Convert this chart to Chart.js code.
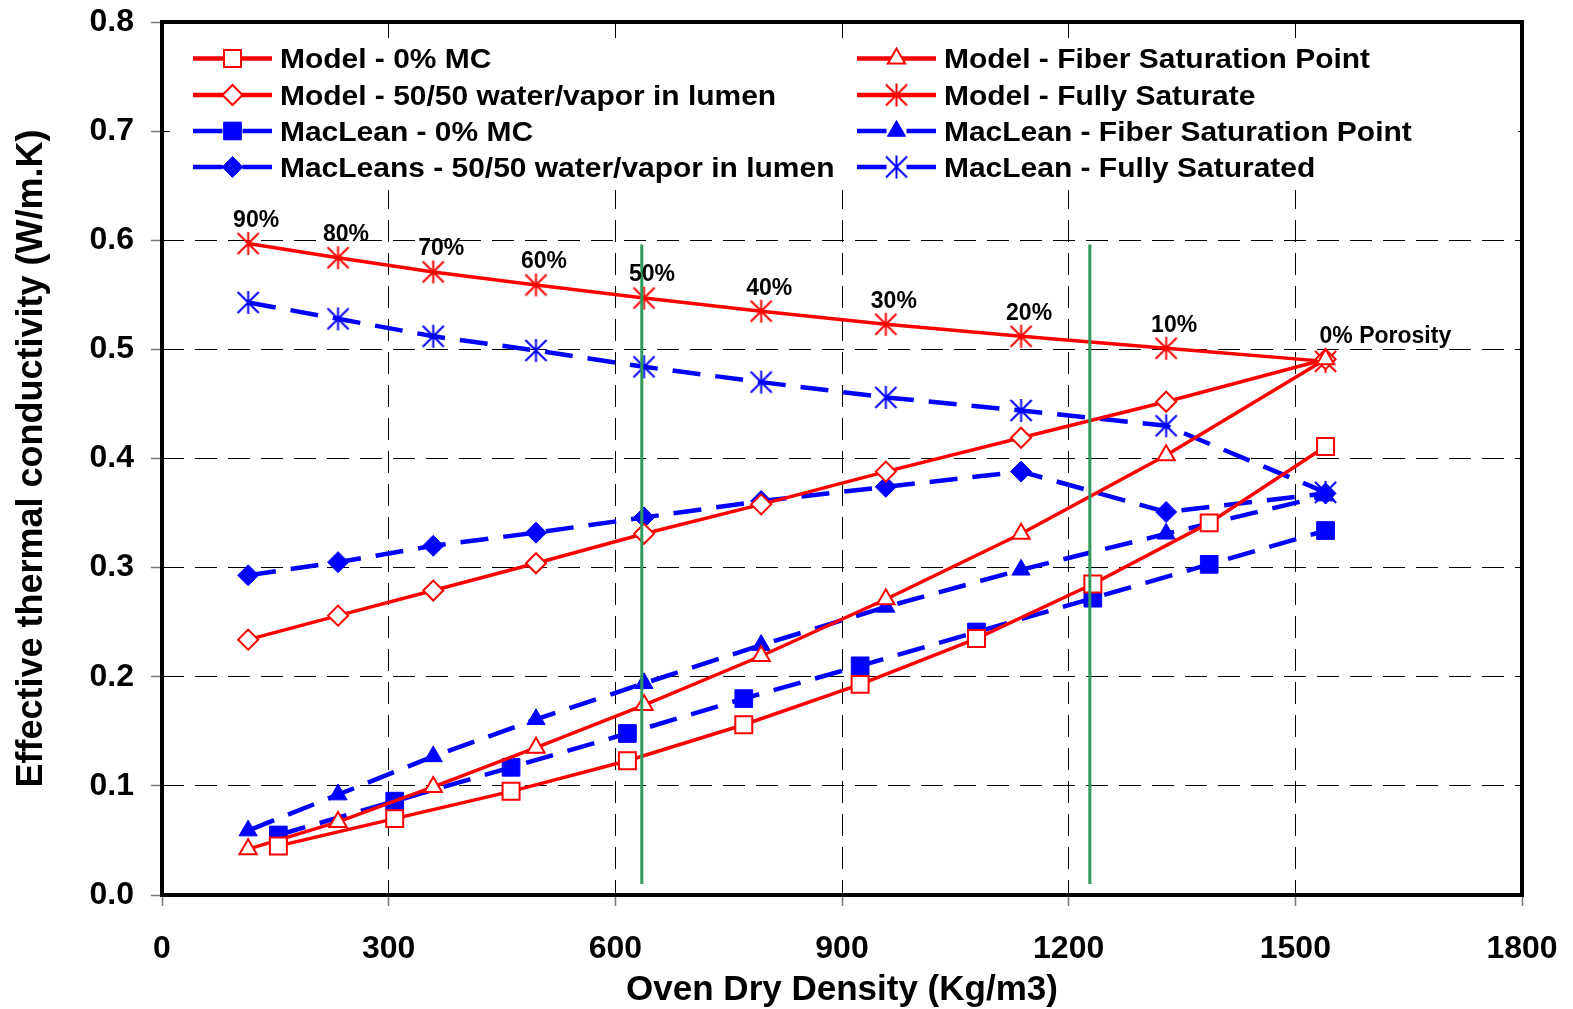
<!DOCTYPE html>
<html>
<head>
<meta charset="utf-8">
<script src="https://cdn.jsdelivr.net/npm/chart.js@4.4.1/dist/chart.umd.min.js"></script>
<style>
  html, body { margin: 0; padding: 0; background: #fff; }
  canvas { display: block; }
</style>
</head>
<body>
<canvas id="chart" width="1573" height="1009"></canvas>
<script>
// --- Data ---
// x positions shared by the FSP, 50/50 and fully saturated series (one per porosity step)
const densityPorosity = [114, 233, 359, 495, 638, 793, 958, 1137, 1329, 1540];
// x positions of the 0% MC series
const densityDry = [154, 308, 462, 616, 770, 924, 1078, 1232, 1386, 1540];

const modelDry       = [0.045, 0.070, 0.095, 0.123, 0.156, 0.193, 0.235, 0.285, 0.341, 0.411];
const modelFSP       = [0.042, 0.067, 0.099, 0.135, 0.174, 0.219, 0.271, 0.331, 0.403, 0.491];
const modelHalf      = [0.234, 0.256, 0.279, 0.304, 0.331, 0.358, 0.388, 0.419, 0.452, 0.491];
const modelSaturated = [0.597, 0.584, 0.571, 0.559, 0.547, 0.535, 0.523, 0.512, 0.501, 0.489];

const macleanDry       = [0.055, 0.086, 0.117, 0.148, 0.180, 0.210, 0.241, 0.272, 0.303, 0.334];
const macleanFSP       = [0.059, 0.092, 0.127, 0.161, 0.194, 0.229, 0.264, 0.298, 0.331, 0.366];
const macleanHalf      = [0.293, 0.305, 0.320, 0.332, 0.346, 0.361, 0.374, 0.388, 0.351, 0.368];
const macleanSaturated = [0.543, 0.528, 0.512, 0.499, 0.484, 0.470, 0.456, 0.444, 0.430, 0.369];

// porosity labels sit on the "Model - Fully Saturate" points
const porosityLabels = ['90%', '80%', '70%', '60%', '50%', '40%', '30%', '20%', '10%', '0% Porosity'];

// the two green vertical marker lines
const boundaryX = [635, 1228];
const boundaryY = [0.01, 0.596];

const xTicks = { min: 0, max: 1800, step: 300 };
const yTicks = { min: 0, max: 0.8, step: 0.1 };

// --- Styling ---
const RED = '#ff0000';
const BLUE = '#0000ff';
const GREEN = '#2e9a5c';
const FONT = '"Liberation Sans", Arial, sans-serif';

function makeAsterisk(color, size, width) {
    const c = document.createElement('canvas');
    c.width = c.height = size + 4;
    const g = c.getContext('2d');
    const m = c.width / 2, r = size / 2, d = r * 0.92;
    g.strokeStyle = color;
    g.lineWidth = width;
    g.beginPath();
    g.moveTo(m, m - r); g.lineTo(m, m + r);
    g.moveTo(m - d, m - d); g.lineTo(m + d, m + d);
    g.moveTo(m - d, m + d); g.lineTo(m + d, m - d);
    g.stroke();
    return c;
}

const redStar = makeAsterisk(RED, 23, 2);
const blueStar = makeAsterisk(BLUE, 23, 2);

function pairs(xs, ys) {
    return ys.map((y, i) => ({ x: xs[i], y: y }));
}

function modelSeries(label, xs, ys, style, radius) {
    return {
        label: label,
        data: pairs(xs, ys),
        showLine: true,
        borderColor: RED,
        borderWidth: 3.5,
        pointStyle: style,
        pointRadius: radius,
        pointBorderColor: RED,
        pointBackgroundColor: '#fff',
        pointBorderWidth: 2
    };
}

function macleanSeries(label, xs, ys, style, radius) {
    return {
        label: label,
        data: pairs(xs, ys),
        showLine: true,
        borderColor: BLUE,
        borderWidth: 4.5,
        borderDash: [28, 15],
        pointStyle: style,
        pointRadius: radius,
        pointBorderColor: BLUE,
        pointBackgroundColor: BLUE,
        pointBorderWidth: 1
    };
}

const datasets = [
    // green marker lines on top
    ...boundaryX.map(x => ({
        label: '',
        data: [{ x: x, y: boundaryY[0] }, { x: x, y: boundaryY[1] }],
        showLine: true,
        borderColor: GREEN,
        borderWidth: 3,
        pointRadius: 0
    })),
    modelSeries('Model - 0% MC', densityDry, modelDry, 'rect', 12),
    modelSeries('Model - Fiber Saturation Point', densityPorosity, modelFSP, 'triangle', 10),
    modelSeries('Model - 50/50 water/vapor in lumen', densityPorosity, modelHalf, 'rectRot', 10),
    modelSeries('Model - Fully Saturate', densityPorosity, modelSaturated, redStar, 12),
    macleanSeries('MacLean - 0% MC', densityDry, macleanDry, 'rect', 12.5),
    macleanSeries('MacLean - Fiber Saturation Point', densityPorosity, macleanFSP, 'triangle', 10.5),
    macleanSeries('MacLeans - 50/50 water/vapor in lumen', densityPorosity, macleanHalf, 'rectRot', 10.5),
    macleanSeries('MacLean - Fully Saturated', densityPorosity, macleanSaturated, blueStar, 12)
];

// legend layout: [dataset label, column, row]
const legendOrder = [
    ['Model - 0% MC', 0, 0],
    ['Model - 50/50 water/vapor in lumen', 0, 1],
    ['MacLean - 0% MC', 0, 2],
    ['MacLeans - 50/50 water/vapor in lumen', 0, 3],
    ['Model - Fiber Saturation Point', 1, 0],
    ['Model - Fully Saturate', 1, 1],
    ['MacLean - Fiber Saturation Point', 1, 2],
    ['MacLean - Fully Saturated', 1, 3]
];

function stretchText(ctx, text, x, y, sx, align) {
    ctx.save();
    ctx.translate(x, y);
    ctx.scale(sx, 1);
    ctx.textAlign = align;
    ctx.fillText(text, 0, 0);
    ctx.restore();
}

function drawMarker(ctx, ds, x, y) {
    const st = ds.pointStyle;
    if (st instanceof HTMLCanvasElement) {
        ctx.drawImage(st, x - st.width / 2, y - st.height / 2);
        return;
    }
    ctx.save();
    ctx.setLineDash([]);
    ctx.fillStyle = ds.pointBackgroundColor;
    ctx.strokeStyle = ds.pointBorderColor;
    ctx.lineWidth = ds.pointBorderWidth;
    Chart.helpers.drawPoint(ctx, { pointStyle: st, radius: ds.pointRadius, borderWidth: ds.pointBorderWidth, rotation: 0 }, x, y);
    ctx.restore();
}

// frame, legend and porosity labels
const decorations = {
    id: 'decorations',
    afterDatasetsDraw(chart) {
        const ctx = chart.ctx;
        const area = chart.chartArea;
        const xs = chart.scales.x, ys = chart.scales.y;

        // porosity labels above the saturated model points
        ctx.save();
        ctx.fillStyle = '#000';
        ctx.font = 'bold 23px ' + FONT;
        ctx.textBaseline = 'middle';
        porosityLabels.forEach((lab, i) => {
            const px = xs.getPixelForValue(densityPorosity[i]);
            const py = ys.getPixelForValue(modelSaturated[i]);
            if (i === porosityLabels.length - 1) {
                ctx.textAlign = 'left';
                ctx.fillText(lab, px - 6, py - 25);
            } else {
                ctx.textAlign = 'center';
                ctx.fillText(lab, px + 8, py - 23);
            }
        });
        ctx.restore();

        // legend box
        ctx.save();
        ctx.fillStyle = '#fff';
        ctx.fillRect(area.left + 8, area.top + 16, area.width - 12, 152);
        const colX = [193, 857];
        const rowY = [58.5, 95, 131, 167];
        ctx.font = 'bold 28px ' + FONT;
        ctx.textBaseline = 'middle';
        legendOrder.forEach(([label, col, row]) => {
            const ds = chart.data.datasets.find(d => d.label === label);
            const x0 = colX[col], y = rowY[row];
            const x1 = x0 + 79, xm = x0 + 39.5;
            ctx.strokeStyle = ds.borderColor;
            ctx.lineWidth = 4.5;
            ctx.beginPath();
            if (ds.borderDash) {
                ctx.moveTo(x0, y); ctx.lineTo(xm - 10, y);
                ctx.moveTo(xm + 10, y); ctx.lineTo(x1, y);
            } else {
                ctx.moveTo(x0, y); ctx.lineTo(x1, y);
            }
            ctx.stroke();
            drawMarker(ctx, ds, xm, y);
            ctx.fillStyle = '#000';
            stretchText(ctx, label, x0 + 87, y + 2, 1.07, 'left');
        });
        ctx.restore();

        // heavy plot frame
        ctx.save();
        ctx.strokeStyle = '#000';
        ctx.lineWidth = 4;
        ctx.strokeRect(area.left, area.top, area.width, area.height);
        ctx.restore();
    }
};

// pin the plot box: no extra room for label overflow
function fixX(s) {
    s.height = 114;
    s.paddingLeft = 0;
    s.paddingRight = 0;
}
function fixY(s) {
    s.width = 162;
    s.paddingTop = 0;
    s.paddingBottom = 0;
}

new Chart(document.getElementById('chart'), {
    type: 'scatter',
    data: { datasets: datasets },
    options: {
        responsive: false,
        animation: false,
        layout: { padding: { top: 22, right: 51, left: 0, bottom: 0 } },
        plugins: {
            legend: { display: false },
            tooltip: { enabled: false }
        },
        elements: { line: { tension: 0 } },
        scales: {
            x: {
                type: 'linear',
                min: xTicks.min,
                max: xTicks.max,
                afterFit: fixX,
                ticks: {
                    stepSize: xTicks.step,
                    color: '#000',
                    padding: 24,
                    font: { family: FONT, size: 32, weight: 'bold' },
                    callback: v => String(v)
                },
                grid: {
                    color: '#000',
                    lineWidth: 1,
                    tickLength: 11,
                    tickColor: '#777',
                    tickWidth: 1.5
                },
                border: { display: false, dash: [22, 11] },
                title: {
                    display: true,
                    text: 'Oven Dry Density (Kg/m3)',
                    color: '#000',
                    padding: { top: 0, bottom: 1 },
                    font: { family: FONT, size: 35, weight: 'bold', lineHeight: 1 }
                }
            },
            y: {
                type: 'linear',
                min: yTicks.min,
                max: yTicks.max,
                afterFit: fixY,
                ticks: {
                    stepSize: yTicks.step,
                    color: '#000',
                    padding: 17,
                    font: { family: FONT, size: 32, weight: 'bold' },
                    callback: v => v.toFixed(1)
                },
                grid: {
                    color: '#000',
                    lineWidth: 1,
                    tickLength: 11,
                    tickColor: '#777',
                    tickWidth: 1.5
                },
                border: { display: false, dash: [22, 11] },
                title: {
                    display: true,
                    text: 'Effective thermal conductivity (W/m.K)',
                    color: '#000',
                    padding: { top: 14, bottom: 0 },
                    font: { family: FONT, size: 36, weight: 'bold', lineHeight: 1 }
                }
            }
        }
    },
    plugins: [decorations]
});
</script>
</body>
</html>
